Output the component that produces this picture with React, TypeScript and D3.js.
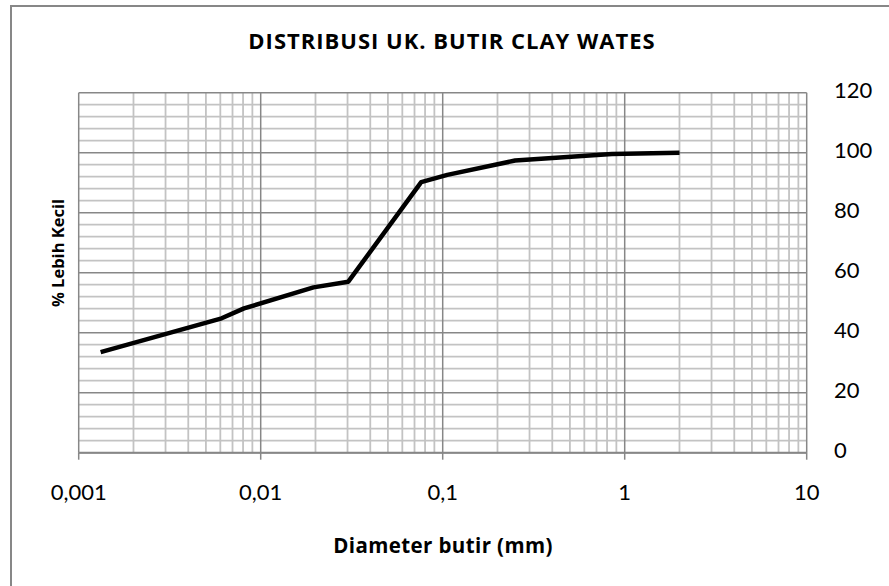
import React from 'react';
import * as d3 from 'd3';

// grain size (mm) and percent finer
const diameters = [0.00132, 0.0061, 0.0081, 0.0195, 0.0303, 0.0762, 0.106, 0.25, 0.85, 2.0];
const percentFiner = [33.5, 44.8, 48.1, 55.1, 57.0, 90.2, 92.6, 97.4, 99.6, 100.0];

const xTicks = [0.001, 0.01, 0.1, 1, 10];
const xTickLabels = ['0,001', '0,01', '0,1', '1', '10'];
const yTicks = [0, 20, 40, 60, 80, 100, 120];

const title = 'DISTRIBUSI UK. BUTIR CLAY WATES';
const xTitle = 'Diameter butir (mm)';
const yTitle = '% Lebih Kecil';

const width = 889;
const height = 586;
const font = 'Lato, "Open Sans", sans-serif';
const boldFont = '"Open Sans", Lato, sans-serif';

const App = () => {
  const x = d3.scaleLog().domain([0.001, 10]).range([78.7, 806.7]);
  const y = d3.scaleLinear().domain([0, 120]).range([452.7, 92.7]);

  const minorX: number[] = [];
  xTicks.slice(0, -1).forEach(d => {
    for (let k = 2; k <= 9; k++) minorX.push(d * k);
  });
  const minorY = d3.range(0, 121, 4).filter(v => v % 20 !== 0);

  const line = d3.line<number>()
    .x((_, i) => x(diameters[i]))
    .y(d => y(d));

  const minorColor = '#c3c3c3';
  const majorColor = '#878787';

  return (
    <svg width={width} height={height} style={{ position: 'absolute', left: 0, top: 0 }}>
      <rect x={0} y={0} width={width} height={height} fill="#fff" />
      <rect x={11} y={6} width={900} height={620} fill="none" stroke="#878787" strokeWidth={2} />

      {/* minor grid */}
      {minorY.map(v => (
        <line key={'my' + v} x1={x(0.001)} x2={x(10)} y1={y(v)} y2={y(v)} stroke={minorColor} strokeWidth={1.8} />
      ))}
      {minorX.map(v => (
        <line key={'mx' + v} x1={x(v)} x2={x(v)} y1={y(0)} y2={y(120)} stroke={minorColor} strokeWidth={1.8} />
      ))}

      {/* major grid */}
      {yTicks.map(v => (
        <line key={'gy' + v} x1={x(0.001)} x2={x(10)} y1={y(v)} y2={y(v)} stroke={majorColor} strokeWidth={1.5} />
      ))}
      {xTicks.map(v => (
        <line key={'gx' + v} x1={x(v)} x2={x(v)} y1={y(0)} y2={y(120)} stroke={majorColor} strokeWidth={1.5} />
      ))}

      {/* x axis */}
      <line x1={x(0.001)} x2={x(10)} y1={y(0)} y2={y(0)} stroke={majorColor} strokeWidth={2} />
      {xTicks.map((v, i) => (
        <g key={'xt' + v}>
          <line x1={x(v)} x2={x(v)} y1={y(0)} y2={y(0) + 7} stroke={majorColor} strokeWidth={1.5} />
          <text x={x(v)} y={494} textAnchor="middle" dominantBaseline="middle"
            fontFamily={font} fontSize={22} fill="#000">{xTickLabels[i]}</text>
        </g>
      ))}

      {/* y axis labels on the right */}
      {yTicks.map(v => (
        <text key={'yt' + v} x={834} y={y(v)} dominantBaseline="middle"
          fontFamily={font} fontSize={22} fill="#000">{v}</text>
      ))}

      <path d={line(percentFiner) || ''} fill="none" stroke="#000" strokeWidth={4.5} strokeLinejoin="round" />

      <text x={452} y={43} textAnchor="middle" dominantBaseline="middle" letterSpacing={1}
        fontFamily={boldFont} fontSize={22} fontWeight="bold" fill="#000">{title}</text>
      <text x={443} y={548} textAnchor="middle" dominantBaseline="middle" letterSpacing={0.4}
        fontFamily={boldFont} fontSize={20.5} fontWeight="bold" fill="#000">{xTitle}</text>
      <text transform="translate(60,253) rotate(-90)" textAnchor="middle" dominantBaseline="middle"
        fontFamily={boldFont} fontSize={16.5} fontWeight="bold" fill="#000">{yTitle}</text>
    </svg>
  );
};

export default App;
